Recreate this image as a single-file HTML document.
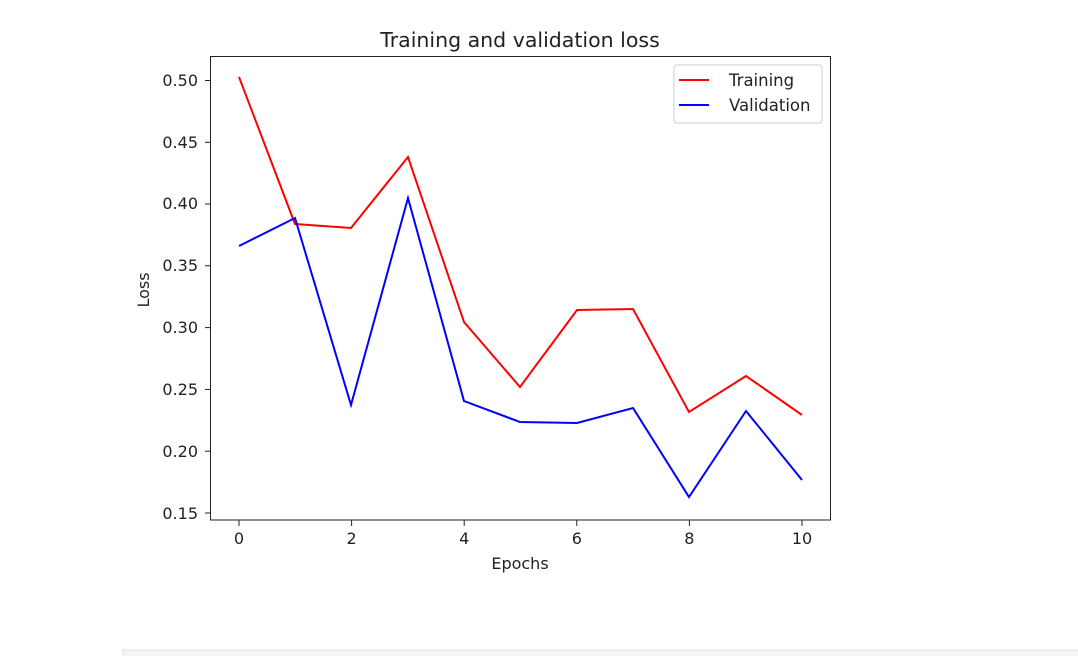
<!DOCTYPE html>
<html><head><meta charset="utf-8"><style>body{margin:0;background:#fff}svg{display:block}text{font-family:"DejaVu Sans","Liberation Sans",sans-serif;fill:#222}</style></head>
<body><svg width="1078" height="656" viewBox="0 0 1078 656">
<rect x="123" y="650" width="960" height="10" fill="#f5f5f5" stroke="#e0e0e0"/>
<text x="520" y="47" font-size="20.5" text-anchor="middle">Training and validation loss</text>
<g font-size="16" text-anchor="end">
<text x="198" y="86">0.50</text><text x="198" y="148">0.45</text><text x="198" y="209">0.40</text><text x="198" y="271">0.35</text><text x="198" y="333">0.30</text><text x="198" y="395">0.25</text><text x="198" y="457">0.20</text><text x="198" y="519">0.15</text>
</g>
<g stroke="#222" stroke-width="1">
<line x1="205" x2="211" y1="80.5" y2="80.5"/><line x1="205" x2="211" y1="142.3" y2="142.3"/><line x1="205" x2="211" y1="204" y2="204"/><line x1="205" x2="211" y1="265.8" y2="265.8"/><line x1="205" x2="211" y1="327.6" y2="327.6"/><line x1="205" x2="211" y1="389.4" y2="389.4"/><line x1="205" x2="211" y1="451.2" y2="451.2"/><line x1="205" x2="211" y1="513" y2="513"/>
<line x1="239" x2="239" y1="520" y2="526"/><line x1="351.6" x2="351.6" y1="520" y2="526"/><line x1="464.2" x2="464.2" y1="520" y2="526"/><line x1="576.8" x2="576.8" y1="520" y2="526"/><line x1="689.4" x2="689.4" y1="520" y2="526"/><line x1="802" x2="802" y1="520" y2="526"/>
</g>
<g font-size="16" text-anchor="middle">
<text x="239" y="544">0</text><text x="351.6" y="544">2</text><text x="464.2" y="544">4</text><text x="576.8" y="544">6</text><text x="689.4" y="544">8</text><text x="802" y="544">10</text>
<text x="520" y="569">Epochs</text>
<text transform="translate(149,290) rotate(-90)">Loss</text>
</g>
<polyline fill="none" stroke="#ff0000" stroke-width="2" points="239,77 295,224 351,228 408,157 464,322 520,387 577,310 633,309 689,412 746,376 802,415"/>
<polyline fill="none" stroke="#0000ff" stroke-width="2" points="239,246 295,218 351,405 408,198 464,401 520,422 577,423 633,408 689,497 746,411 802,480"/>
<rect x="210.5" y="56.5" width="620" height="463.5" fill="none" stroke="#222" stroke-width="1"/>
<rect x="674" y="65" width="148" height="58" rx="3" fill="#fff" stroke="#ccc"/>
<line x1="679" x2="709" y1="80" y2="80" stroke="#ff0000" stroke-width="2"/>
<line x1="679" x2="709" y1="105" y2="105" stroke="#0000ff" stroke-width="2"/>
<text x="729" y="86" font-size="16.5">Training</text>
<text x="729" y="111" font-size="16.5">Validation</text>
</svg></body></html>
